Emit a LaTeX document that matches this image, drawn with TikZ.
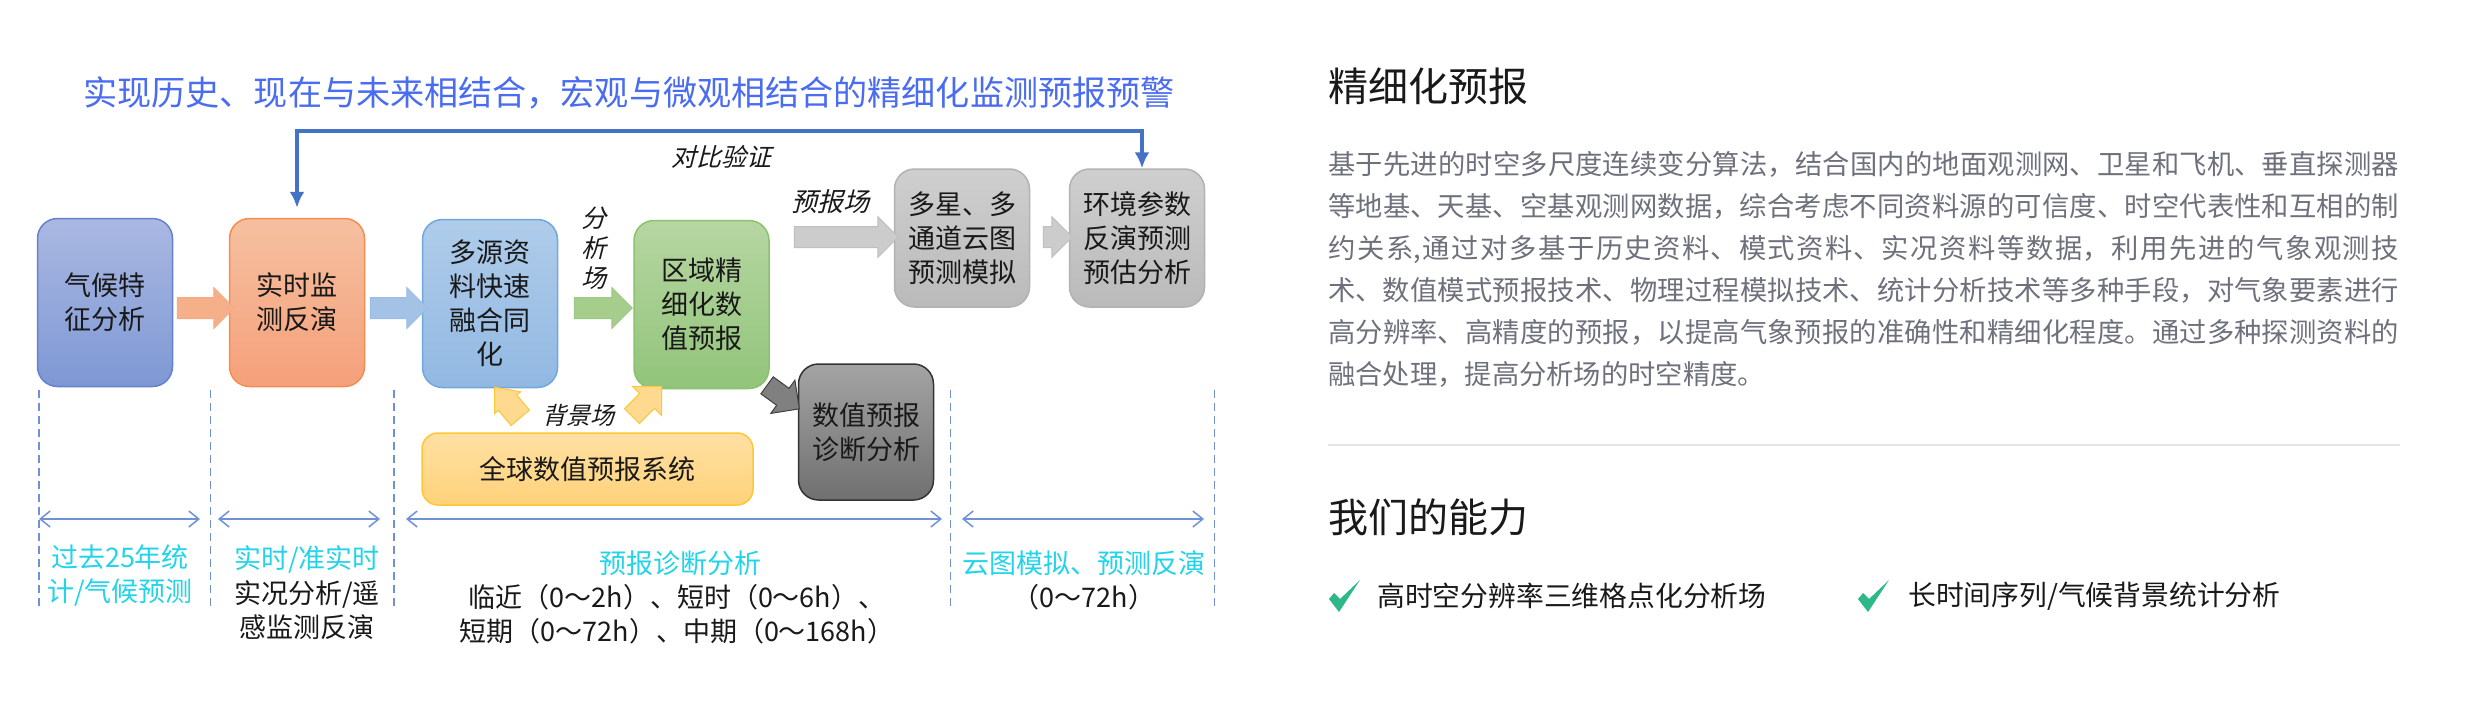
\documentclass[tikz,border=0pt]{standalone}
\usepackage{fontspec}
\setmainfont{Noto Sans CJK SC}
\newfontfamily\slantfont[FakeSlant=0.25]{Noto Sans CJK SC}
\usetikzlibrary{arrows.meta, shapes.arrows}
\XeTeXlinebreaklocale "zh"
\XeTeXlinebreakskip=0pt plus 3pt
\definecolor{linkblue}{HTML}{4472C4}
\definecolor{spanblue}{HTML}{7090D8}
\definecolor{labelcyan}{HTML}{22D3EA}
\definecolor{titleblue}{HTML}{4A6CF0}
\definecolor{bodygrey}{HTML}{6E717C}
\definecolor{tickgreen}{HTML}{2DB888}
\definecolor{yellowline}{HTML}{FFC733}
\definecolor{yellowfill}{HTML}{FFD98F}
\tikzset{
  box/.style={rectangle, rounded corners=20pt, line width=1.5pt, align=center,
    minimum width=135pt, minimum height=168pt, inner sep=0pt, text=black!90,
    font=\fontsize{27}{34}\selectfont},
  greybox/.style={box, draw=black!30, top color=black!19, bottom color=black!27, minimum height=138pt},
  blockarrow/.style={single arrow, outer sep=0pt, inner xsep=0pt, inner ysep=10pt,
    single arrow head extend=10pt, line width=1pt},
  span/.style={<->, >={Straight Barb[length=10pt,width=16pt]}, spanblue, line width=1.5pt},
  divide/.style={spanblue, dashed, dash pattern=on 8pt off 5pt, line width=1.5pt},
  tag/.style={align=center, inner sep=0pt, font=\fontsize{27}{34}\selectfont, text=black!90},
  slanttag/.style={align=center, inner sep=0pt, font=\slantfont\fontsize{25}{30}\selectfont, text=black!90},
  heading/.style={anchor=west, inner sep=0pt, font=\fontsize{40}{48}\selectfont, text=black!90},
  tick/.pic={\fill[tickgreen] (0,19) -- (10,32) -- (31,0) -- (11,19) -- (5,13) -- cycle;}
}
\begin{document}
\begin{tikzpicture}[x=1pt, y=-1pt]
  \useasboundingbox (0,0) rectangle (2480,702);

  \node[inner sep=0pt, text=titleblue, font=\fontsize{34.1}{40}\selectfont] (headline) at (629,93)
    {实现历史、现在与未来相结合，宏观与微观相结合的精细化监测预报预警};

  % process boxes
  \node[box, draw={rgb,255:red,100;green,130;blue,205}, top color={rgb,255:red,170;green,184;blue,226}, bottom color={rgb,255:red,126;green,152;blue,212}] (clim) at (105,302.5) {气候特\\征分析};
  \node[box, draw={rgb,255:red,245;green,140;blue,80}, top color={rgb,255:red,245;green,192;blue,160}, bottom color={rgb,255:red,245;green,160;blue,122}] (live) at (297,302.5) {实时监\\测反演};
  \node[box, draw={rgb,255:red,112;green,168;blue,222}, top color={rgb,255:red,175;green,204;blue,234}, bottom color={rgb,255:red,146;green,184;blue,226}] (merge) at (490,303.5) {多源资\\料快速\\融合同\\化};
  \node[box, draw={rgb,255:red,140;green,194;blue,110}, top color={rgb,255:red,182;green,214;blue,162}, bottom color={rgb,255:red,146;green,196;blue,122}] (region) at (701.5,304.5) {区域精\\细化数\\值预报};
  \node[greybox] (sat) at (962,238) {多星、多\\通道云图\\预测模拟};
  \node[greybox] (env) at (1137,238) {环境参数\\反演预测\\预估分析};
  \node[box, draw=black!80, top color=black!36, bottom color=black!56, minimum height=136pt] (diag) at (866,432) {数值预报\\诊断分析};
  \node[box, draw=yellowline, top color={rgb,255:red,255;green,224;blue,163}, bottom color={rgb,255:red,255;green,210;blue,122}, minimum width=331pt, minimum height=72pt, rounded corners=16pt] (gfs) at (587.5,469) {全球数值预报系统};

  % block arrows
  \node[blockarrow, draw={rgb,255:red,245;green,170;blue,130}, fill={rgb,255:red,245;green,176;blue,138}, minimum height=57pt] (a1) at (200.5,308) {};
  \node[blockarrow, draw={rgb,255:red,150;green,190;blue,230}, fill={rgb,255:red,163;green,194;blue,230}, minimum height=57pt] (a2) at (393.5,308) {};
  \node[blockarrow, draw={rgb,255:red,155;green,200;blue,130}, fill={rgb,255:red,166;green,205;blue,140}, minimum height=58pt] (a3) at (598,308) {};
  \node[blockarrow, draw=black!25, fill=black!20, minimum height=104pt] (a4) at (841,237) {};
  \node[blockarrow, draw=black!25, fill=black!20, minimum height=29pt] (a5) at (1052.5,237) {};
  \node[blockarrow, draw=black!75, fill=black!50, minimum height=40pt, rotate=-36] (a6) at (779,394) {};
  \node[blockarrow, draw=yellowline, fill=yellowfill, minimum height=40pt, inner ysep=11.5pt,
    single arrow head extend=5pt, single arrow tip angle=80, rotate=130] (a7) at (512,408) {};
  \node[blockarrow, draw=yellowline, fill=yellowfill, minimum height=42pt, rotate=45] (a8) at (643,405) {};

  % link from the forecast back to the live box
  \coordinate (turn) at (720,131);
  \draw[linkblue, line width=3.5pt, -{Latex[length=16pt,width=15pt]}, shorten >=10pt] (turn) -| (live.north);
  \draw[linkblue, line width=3.5pt, -{Latex[length=16pt,width=15pt]}] (turn) -| ([xshift=5pt]env.north);

  \node[slanttag] (check) at (721,157) {对比验证};
  \node[slanttag, font=\slantfont\fontsize{26}{30}\selectfont] (fcst) at (830,202) {预报场};
  \node[slanttag] (ana) at (594,248) {分\\析\\场};
  \node[slanttag, font=\slantfont\fontsize{24}{30}\selectfont] (back) at (578,415) {背景场};

  % time spans
  \foreach \x/\name in {39/d1, 210.5/d2, 394/d3, 950.5/d4, 1214.5/d5} {
    \coordinate (\name t) at (\x,390);
    \coordinate (\name b) at (\x,608);
    \draw[divide] (\name t) -- (\name b);
  }
  \coordinate (s1l) at (39,519);    \coordinate (s1r) at (200,519);
  \coordinate (s2l) at (218,519);   \coordinate (s2r) at (380,519);
  \coordinate (s3l) at (406,519);   \coordinate (s3r) at (942,519);
  \coordinate (s4l) at (962,519);   \coordinate (s4r) at (1204,519);
  \draw[span] (s1l) -- (s1r);
  \draw[span] (s2l) -- (s2r);
  \draw[span] (s3l) -- (s3r);
  \draw[span] (s4l) -- (s4r);

  \node[tag, text=labelcyan] (t1) at (120,576) {过去25年统\\计/气候预测};
  \node[tag, text=labelcyan] (t2) at (307,559) {实时/准实时};
  \node[tag] (t2b) at (307,610) {实况分析/遥\\感监测反演};
  \node[tag, text=labelcyan] (t3) at (680,563) {预报诊断分析};
  \node[tag] (t3b) at (677,614) {临近（0～2h）、短时（0～6h）、\\短期（0～72h）、中期（0～168h）};
  \node[tag, text=labelcyan] (t4) at (1084,563) {云图模拟、预测反演};
  \node[tag] (t4b) at (1084,597) {（0～72h）};

  % right hand column
  \node[heading] (h1) at (1328,86) {精细化预报};
  \node[anchor=north west, inner sep=0pt, text width=1071pt, align=justify, text=bodygrey,
    font=\fontsize{27.3}{41.9}\selectfont] (body) at (1328,151.5) {\tolerance=9999
    基于先进的时空多尺度连续变分算法，结合国内的地面观测网、卫星和飞机、垂直探测器\linebreak
    等地基、天基、空基观测网数据，综合考虑不同资料源的可信度、时空代表性和互相的制\linebreak
    约关系,通过对多基于历史资料、模式资料、实况资料等数据，利用先进的气象观测技\linebreak
    术、数值模式预报技术、物理过程模拟技术、统计分析技术等多种手段，对气象要素进行\linebreak
    高分辨率、高精度的预报，以提高气象预报的准确性和精细化程度。通过多种探测资料的\linebreak
    融合处理，提高分析场的时空精度。};
  \coordinate (ruleL) at (1328,445);
  \coordinate (ruleR) at (2400,445);
  \draw[black!10, line width=2pt] (ruleL) -- (ruleR);
  \node[heading] (h2) at (1328,517) {我们的能力};

  \pic at (1329,580) {tick};
  \pic at (1858,580) {tick};
  \node[anchor=west, inner sep=0pt, text=black!90, font=\fontsize{27.8}{32}\selectfont] (c1) at (1377,596) {高时空分辨率三维格点化分析场};
  \node[anchor=west, inner sep=0pt, text=black!90, font=\fontsize{27.8}{32}\selectfont] (c2) at (1908,596) {长时间序列/气候背景统计分析};
\end{tikzpicture}
\end{document}
